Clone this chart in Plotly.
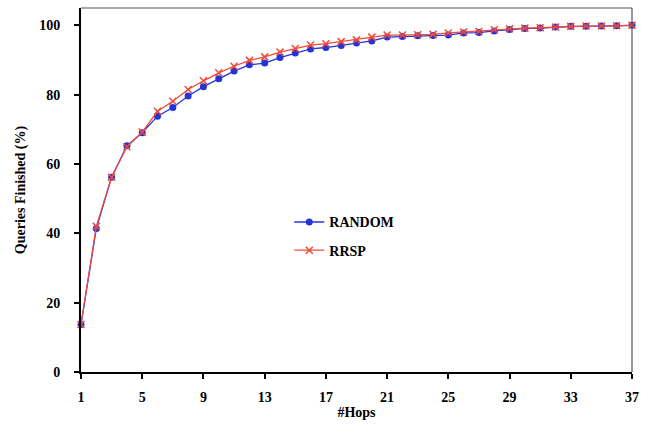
import plotly.graph_objects as go

hops = list(range(1, 38))
random_vals = [13.7, 41.4, 56.2, 65.3, 69.0, 73.8, 76.3, 79.6, 82.3, 84.6,
               86.8, 88.6, 89.1, 90.7, 92.0, 93.2, 93.6, 94.2, 94.9, 95.5,
               96.6, 96.8, 97.0, 97.1, 97.2, 97.8, 97.9, 98.4, 98.8, 99.1,
               99.2, 99.5, 99.7, 99.7, 99.8, 99.9, 100.0]
rrsp_vals = [13.7, 42.0, 56.2, 65.0, 69.2, 75.2, 78.1, 81.5, 84.0, 86.3,
             88.2, 89.9, 90.9, 92.3, 93.3, 94.3, 94.7, 95.3, 95.8, 96.6,
             97.2, 97.2, 97.3, 97.4, 97.8, 98.1, 98.2, 98.7, 99.0, 99.2,
             99.3, 99.5, 99.7, 99.8, 99.8, 99.9, 100.0]
x_ticks = [1, 5, 9, 13, 17, 21, 25, 29, 33, 37]
y_ticks = [0, 20, 40, 60, 80, 100]

FONT = "Liberation Serif"

fig = go.Figure()
fig.add_trace(go.Scatter(
    x=hops, y=random_vals, name="<b>RANDOM</b>", mode="lines+markers",
    legendgroup="a",
    line=dict(color="#2335D8", width=1.3),
    marker=dict(symbol="circle", size=7, color="#2335D8"),
    cliponaxis=False))
fig.add_trace(go.Scatter(
    x=hops, y=rrsp_vals, name="<b>RRSP</b>", mode="lines+markers",
    legendgroup="b",
    line=dict(color="#EE4B3C", width=1.3),
    marker=dict(symbol="x-thin", size=7, color="#EE4B3C",
                line=dict(color="#EE4B3C", width=1.5)),
    cliponaxis=False))

fig.update_layout(
    width=650, height=434,
    margin=dict(l=81, r=18, t=8, b=62),
    paper_bgcolor="white", plot_bgcolor="white",
    font=dict(family=FONT, size=14, color="black"),
    showlegend=True,
    legend=dict(x=0.378, y=0.455, xanchor="left", yanchor="top",
                bgcolor="rgba(0,0,0,0)", tracegroupgap=7,
                font=dict(family=FONT, size=14, color="black")),
    xaxis=dict(range=[1, 37], tickvals=x_ticks,
               ticktext=[f"<b>{v}</b>" for v in x_ticks],
               showgrid=False, zeroline=False,
               showline=True, linecolor="black", linewidth=2,
               ticks="outside", ticklen=5, tickwidth=2, tickcolor="black",
               ticklabelstandoff=6,
               title=dict(text="<b>#Hops</b>", font=dict(size=14), standoff=3)),
    yaxis=dict(range=[0, 105], tickvals=y_ticks,
               ticktext=[f"<b>{v}</b>" for v in y_ticks],
               showgrid=False, zeroline=False,
               showline=True, linecolor="black", linewidth=2,
               ticks="outside", ticklen=5, tickwidth=2, tickcolor="black",
               ticklabelstandoff=11,
               title=dict(text="<b>Queries Finished (%)</b>", font=dict(size=14), standoff=10)),
    shapes=[
        dict(type="line", xref="paper", yref="paper", x0=0, x1=1, y0=1, y1=1,
             line=dict(color="#555555", width=1.2)),
        dict(type="line", xref="paper", yref="paper", x0=1, x1=1, y0=0, y1=1,
             line=dict(color="#555555", width=1.2)),
    ],
)

fig.write_html("out.html", config={"displayModeBar": False},
               post_script="document.body.style.margin='0';")
